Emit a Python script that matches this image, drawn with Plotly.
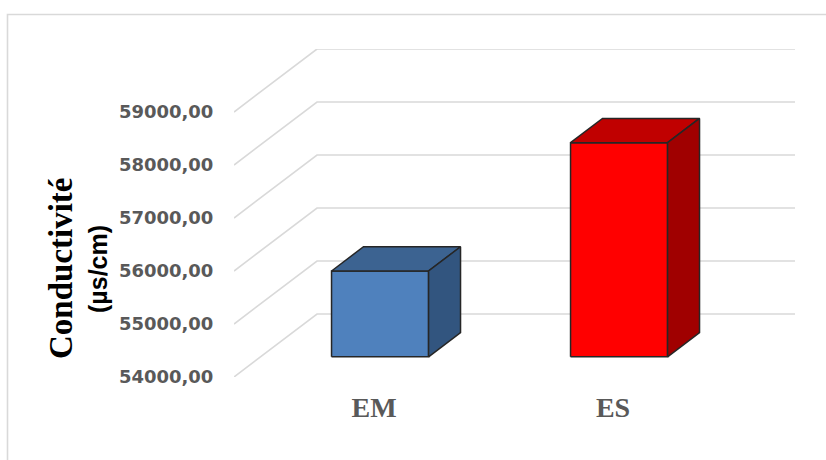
import plotly.graph_objects as go

# ---- data -------------------------------------------------------------
categories = ["EM", "ES"]
conductivity = [55620, 58040]          # µs/cm
tick_values = [54000, 55000, 56000, 57000, 58000, 59000]
tick_labels = ["54000,00", "55000,00", "56000,00", "57000,00", "58000,00", "59000,00"]

# ---- geometry of the oblique 3-D look ---------------------------------
W, H = 826, 460
PLOT_L, PLOT_R, PLOT_T, PLOT_B = 234, 795, 49, 377   # plot area in pixels
CAT_PX = 239                                          # pixels per category
VAL_PX = 53 / 1000                                    # pixels per value unit
Y_MIN = tick_values[0]
X_MIN = -0.5
X_MAX = X_MIN + (PLOT_R - PLOT_L) / CAT_PX
Y_MAX = Y_MIN + (PLOT_B - PLOT_T) / VAL_PX

DEPTH_DX = 83 / CAT_PX       # full wall depth, in category units
DEPTH_DY = 63 / VAL_PX       # full wall depth, in value units
BAR_HALF = 0.203             # half bar width (category units)
BAR_F0, BAR_F1 = 0.32, 0.705  # front/back depth fraction of the bars
LABEL_SHIFT = 0.086

GRID = "#d9d9d9"
EDGE = "#262626"
FACE_COLORS = [
    dict(front="#4f81bd", top="#3c6391", side="#32557f"),
    dict(front="#ff0000", top="#c00000", side="#a00000"),
]


def proj(x, v, f):
    """Project point (x, value) at depth fraction f onto the front plane."""
    return x + f * DEPTH_DX, v + f * DEPTH_DY


def poly(points):
    xs, ys = zip(*(proj(*p) for p in points))
    return list(xs) + [xs[0]], list(ys) + [ys[0]]


fig = go.Figure()

# back-wall and side-wall gridlines
for v in tick_values:
    x0, y0 = proj(X_MIN, v, 0)
    x1, y1 = proj(X_MIN, v, 1)
    fig.add_trace(go.Scatter(
        x=[x0, x1, X_MAX], y=[y0, y1, y1], mode="lines",
        line=dict(color=GRID, width=1.6), hoverinfo="skip", showlegend=False,
    ))

# 3-D columns: front, top and right side faces
for i, (cat, val) in enumerate(zip(categories, conductivity)):
    xl, xr = i - BAR_HALF, i + BAR_HALF
    faces = {
        "front": [(xl, Y_MIN, BAR_F0), (xr, Y_MIN, BAR_F0), (xr, val, BAR_F0), (xl, val, BAR_F0)],
        "top": [(xl, val, BAR_F0), (xr, val, BAR_F0), (xr, val, BAR_F1), (xl, val, BAR_F1)],
        "side": [(xr, Y_MIN, BAR_F0), (xr, Y_MIN, BAR_F1), (xr, val, BAR_F1), (xr, val, BAR_F0)],
    }
    for name, pts in faces.items():
        xs, ys = poly(pts)
        fig.add_trace(go.Scatter(
            x=xs, y=ys, mode="lines", fill="toself",
            fillcolor=FACE_COLORS[i][name],
            line=dict(color=EDGE, width=1.5),
            name=cat, hoverinfo="skip", showlegend=False,
        ))


def px_to_paper_x(px):
    return (px - PLOT_L) / (PLOT_R - PLOT_L)


def px_to_paper_y(py):
    return (PLOT_B - py) / (PLOT_B - PLOT_T)


# axis title, two lines in different faces
fig.add_annotation(
    text="Conductivité", textangle=-90, showarrow=False,
    xref="paper", yref="paper", x=px_to_paper_x(61), y=px_to_paper_y(268),
    xanchor="center", yanchor="middle",
    font=dict(family="Liberation Serif", size=33, color="#000000", weight="bold"),
)
fig.add_annotation(
    text="(µs/cm)", textangle=-90, showarrow=False,
    xref="paper", yref="paper", x=px_to_paper_x(98), y=px_to_paper_y(269),
    xanchor="center", yanchor="middle",
    font=dict(family="Liberation Sans", size=25, color="#000000", weight="bold"),
)

# chart-area border
fig.add_shape(
    type="rect", xref="paper", yref="paper",
    x0=px_to_paper_x(7.5), x1=px_to_paper_x(W + 20),
    y0=px_to_paper_y(H + 20), y1=px_to_paper_y(14.5),
    line=dict(color=GRID, width=1.6), layer="below",
)

fig.update_layout(
    width=W, height=H,
    margin=dict(l=PLOT_L, r=W - PLOT_R, t=PLOT_T, b=H - PLOT_B),
    paper_bgcolor="white", plot_bgcolor="white",
    xaxis=dict(
        range=[X_MIN, X_MAX], showgrid=False, zeroline=False, showline=False,
        tickvals=[i + LABEL_SHIFT for i in range(len(categories))],
        ticktext=categories, ticks="outside", ticklen=5,
        tickcolor="rgba(0,0,0,0)",
        tickfont=dict(family="Liberation Serif", size=28, color="#595959", weight="bold"),
        fixedrange=True,
    ),
    yaxis=dict(
        range=[Y_MIN, Y_MAX], showgrid=False, zeroline=False, showline=False,
        tickvals=tick_values, ticktext=tick_labels, ticks="outside", ticklen=16,
        tickcolor="rgba(0,0,0,0)",
        tickfont=dict(family="DejaVu Sans", size=18, color="#595959", weight="bold"),
        fixedrange=True,
    ),
)

fig.write_html("out.html")
